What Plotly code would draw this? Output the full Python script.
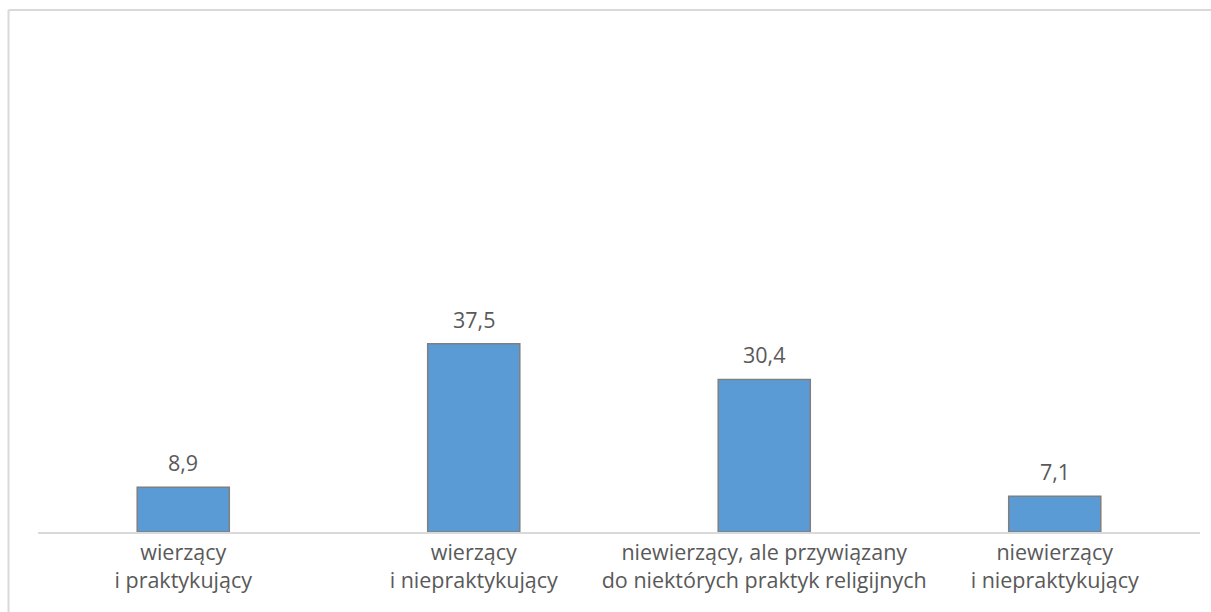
import plotly.graph_objects as go

categories = ["wierzący<br>i praktykujący", "wierzący<br>i niepraktykujący",
              "niewierzący, ale przywiązany<br>do niektórych praktyk religijnych",
              "niewierzący<br>i niepraktykujący"]
values = [8.9, 37.5, 30.4, 7.1]
labels = ["8,9", "37,5", "30,4", "7,1"]

W, H = 1211, 612
L, R, T, B = 38, 11, 30, 80
pw, ph = W - L - R, H - T - B

FONT = "Open Sans"
GREY = "#595959"
FS = 21.5

fig = go.Figure()
fig.add_trace(go.Bar(
    x=categories, y=values,
    marker=dict(color="#5b9bd5", line=dict(color="#7f7f7f", width=1.5)),
    hoverinfo="skip",
))

for c, v, t in zip(categories, values, labels):
    fig.add_annotation(x=c, y=v, text=t, showarrow=False, yanchor="bottom",
                       yshift=8, font=dict(family=FONT, size=FS, color=GREY))

def px_x(p):
    return (p - L) / pw

def px_y(p):
    return (H - B - p) / ph

fx, fy = px_x(8.5), px_y(10)
fig.add_shape(type="line", xref="paper", yref="paper", x0=fx, x1=fx, y0=px_y(612), y1=fy,
              line=dict(color="#d9d9d9", width=2))
fig.add_shape(type="line", xref="paper", yref="paper", x0=fx, x1=px_x(1212), y0=fy, y1=fy,
              line=dict(color="#d9d9d9", width=2))

fig.update_layout(
    width=W, height=H,
    margin=dict(l=L, r=R, t=T, b=B),
    paper_bgcolor="white", plot_bgcolor="white",
    bargap=0.683, showlegend=False,
    font=dict(family=FONT, size=FS, color=GREY),
)
fig.update_xaxes(showline=True, linecolor="#d9d9d9", linewidth=1.5, ticks="",
                 showgrid=False, tickfont=dict(family=FONT, size=FS, color=GREY),
                 ticklabelstandoff=0)
fig.update_yaxes(range=[0, 100], visible=False, showgrid=False, zeroline=False)

fig.write_html("out.html")
